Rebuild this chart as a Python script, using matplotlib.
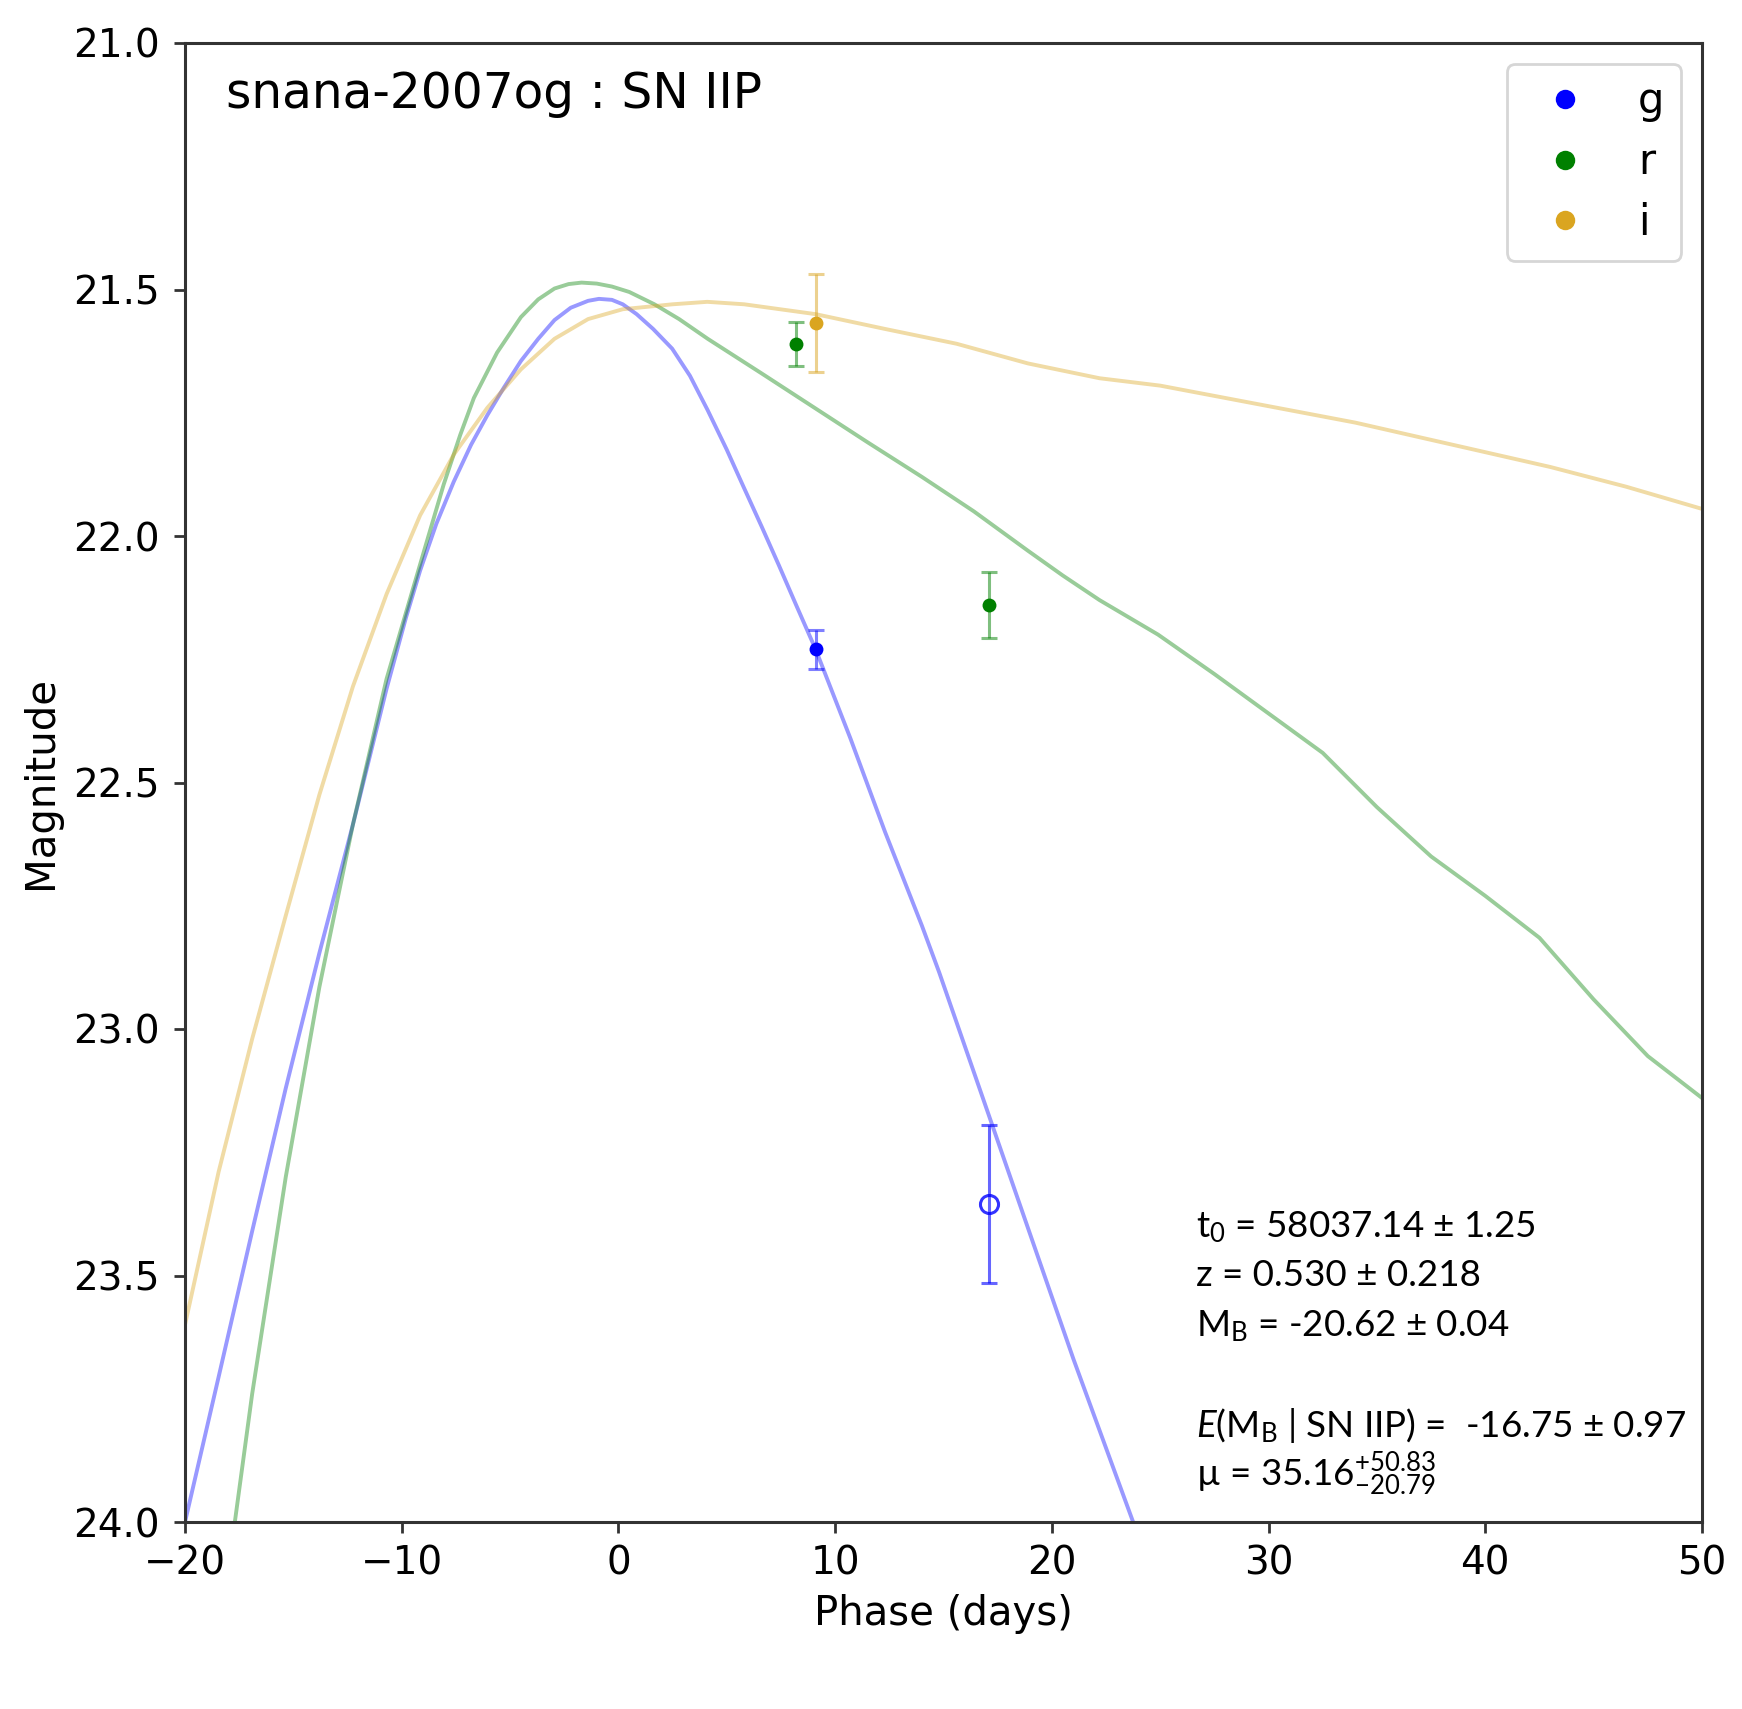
import matplotlib
matplotlib.use("Agg")
import matplotlib.pyplot as plt
from matplotlib.lines import Line2D

plt.rcParams['font.family'] = ['DejaVu Sans']
plt.rcParams['mathtext.fontset'] = 'custom'
plt.rcParams['mathtext.rm'] = 'Lato'
plt.rcParams['mathtext.it'] = 'Lato:italic'
plt.rcParams['mathtext.sf'] = 'Lato'

# ---- model light curves ----
g_phase = [-20, -18.45, -16.9, -15.35, -13.8, -12.25, -10.7, -9.8, -9.15, -8.4, -7.6, -6.8, -6.05, -5.3,
           -4.5, -3.7, -2.95, -2.2, -1.4, -0.9, -0.3, 0.2, 0.84, 1.6, 2.48, 3.3, 4.12, 5.0, 5.77, 6.6,
           7.41, 8.2, 9.1, 10.7, 12.3, 14.0, 14.8, 16.5, 18, 19.5, 21, 22.5, 24]
g_mag = [24.0, 23.706, 23.41, 23.12, 22.846, 22.585, 22.31, 22.165, 22.07, 21.975, 21.89, 21.815, 21.755, 21.70,
         21.645, 21.60, 21.562, 21.537, 21.523, 21.519, 21.521, 21.53, 21.55, 21.58, 21.62, 21.675, 21.745, 21.825, 21.90, 21.98,
         22.06, 22.14, 22.23, 22.41, 22.60, 22.79, 22.885, 23.10, 23.29, 23.48, 23.67, 23.85, 24.03]

r_phase = [-17.7, -16.9, -15.35, -13.8, -12.25, -10.7, -9.8, -8.9, -8.06, -7.3, -6.67, -5.6, -4.5, -3.7,
           -2.95, -2.3, -1.7, -1.0, -0.3, 0.5, 1.66, 2.8, 4.12, 6.6, 9.05, 11.5, 14.0, 16.4, 18.9, 20.5,
           22.2, 24.9, 27.5, 30, 32.5, 35, 37.5, 40, 42.5, 45, 47.5, 50]
r_mag = [24.0, 23.74, 23.30, 22.915, 22.585, 22.29, 22.155, 22.02, 21.895, 21.795, 21.72, 21.628, 21.556, 21.52,
         21.498, 21.489, 21.486, 21.488, 21.494, 21.505, 21.53, 21.56, 21.60, 21.67, 21.74, 21.81, 21.88, 21.95, 22.03, 22.08,
         22.13, 22.20, 22.28, 22.36, 22.44, 22.55, 22.65, 22.73, 22.815, 22.94, 23.055, 23.14]

i_phase = [-20, -18.45, -16.9, -15.35, -13.8, -12.25, -10.7, -9.15, -7.6, -6.05, -4.5, -2.95, -1.4, 0.2,
           2.5, 4.1, 5.8, 9.1, 12.3, 15.6, 18.9, 22.2, 25, 28, 31, 34, 37, 40, 43, 46.5, 50]
i_mag = [23.60, 23.29, 23.02, 22.77, 22.525, 22.305, 22.118, 21.958, 21.835, 21.74, 21.662, 21.60, 21.56, 21.54,
         21.53, 21.525, 21.53, 21.55, 21.58, 21.61, 21.65, 21.68, 21.695, 21.72, 21.745, 21.77, 21.80, 21.83, 21.86, 21.90, 21.945]

# ---- observations ----
g_obs_phase = [9.1]
g_obs_mag = [22.23]
g_obs_err = [0.04]
g_lim_phase = [17.1]
g_lim_mag = [23.355]
g_lim_err = [0.16]
r_obs_phase = [8.2, 17.1]
r_obs_mag = [21.61, 22.14]
r_obs_err = [0.045, 0.066]
i_obs_phase = [9.1]
i_obs_mag = [21.568]
i_obs_err = [0.10]

bands = ['g', 'r', 'i']
band_colors = ['blue', 'green', 'goldenrod']

x_ticks = [-20, -10, 0, 10, 20, 30, 40, 50]
y_ticks = [21.0, 21.5, 22.0, 22.5, 23.0, 23.5, 24.0]

title_text = 'snana-2007og : SN IIP'
info_lines = [r'$\mathrm{t_{0}}$ = 58037.14 ± 1.25',
              'z = 0.530 ± 0.218',
              r'M$_{\mathrm{B}}$ = -20.62 ± 0.04',
              r'$\mathit{E}$(M$_{\mathrm{B}}$ | SN IIP) =  -16.75 ± 0.97',
              'µ = 35.16$^{\\mathrm{+50.83}}_{\\mathrm{-20.79}}$']
info_y = [1237, 1286, 1336, 1437, 1486]

W, H = 1742, 1709
fig = plt.figure(figsize=(W / 100, H / 100), dpi=100)
L, R, T, B = 185, 1702, 43, 1522
ax = fig.add_axes([L / W, 1 - B / H, (R - L) / W, (B - T) / H])

lw = 2.8
ax.plot(g_phase, g_mag, color='blue', alpha=0.4, lw=lw, solid_joinstyle='round')
ax.plot(r_phase, r_mag, color='green', alpha=0.4, lw=lw, solid_joinstyle='round')
ax.plot(i_phase, i_mag, color='goldenrod', alpha=0.4, lw=lw, solid_joinstyle='round')

ekw = dict(fmt='none', elinewidth=2.2, capsize=6, capthick=2.2, alpha=0.5)
ax.errorbar(g_obs_phase, g_obs_mag, yerr=g_obs_err, ecolor='blue', **ekw)
ax.errorbar(r_obs_phase, r_obs_mag, yerr=r_obs_err, ecolor='green', **ekw)
ax.errorbar(i_obs_phase, i_obs_mag, yerr=i_obs_err, ecolor='goldenrod', **ekw)
ax.errorbar(g_lim_phase, g_lim_mag, yerr=g_lim_err, ecolor='blue', fmt='none',
            elinewidth=2.2, capsize=6, capthick=2.2, alpha=0.6)
ax.plot(g_obs_phase, g_obs_mag, 'o', color='blue', ms=10, mew=0)
ax.plot(r_obs_phase, r_obs_mag, 'o', color='green', ms=10, mew=0)
ax.plot(i_obs_phase, i_obs_mag, 'o', color='goldenrod', ms=10, mew=0)
ax.plot(g_lim_phase, g_lim_mag, 'o', mfc='none', mec='blue', ms=13, mew=2.2, alpha=0.8)

ax.set_xlim(-20, 50)
ax.set_ylim(24.0, 21.0)
ax.set_xticks(x_ticks)
ax.set_xticklabels(['\u2212' + str(abs(v)) if v < 0 else str(v) for v in x_ticks])
ax.set_yticks(y_ticks)
ax.set_yticklabels([f'{v:.1f}' for v in y_ticks])
ax.tick_params(axis='both', labelsize=28, length=8, width=2, color='#333333')
ax.tick_params(axis='x', pad=8)
ax.tick_params(axis='y', pad=10)
for sp in ax.spines.values():
    sp.set_linewidth(2.2)
    sp.set_color('#333333')

ax.set_xlabel('Phase (days)', fontsize=29)
ax.set_ylabel('Magnitude', fontsize=29)
ax.xaxis.set_label_coords(0.5, -(1614 - B) / (B - T), transform=ax.transAxes)
ax.yaxis.set_label_coords(-(L - 41) / (R - L), 0.5, transform=ax.transAxes)
ax.xaxis.label.set_va('center')
ax.yaxis.label.set_va('center')

ax.text((226 - L) / (R - L), (B - 108) / (B - T), title_text, transform=ax.transAxes,
        fontsize=35, ha='left', va='baseline')

handles = [Line2D([], [], ls='none', marker='o', color=c, ms=14, mew=0) for c in band_colors]
leg = ax.legend(handles, bands, loc='upper right', fontsize=30, labelspacing=0.45,
                handletextpad=0.75, borderpad=0.4, borderaxespad=0.5, framealpha=0.8)
leg.get_frame().set_linewidth(2)
leg.get_frame().set_edgecolor('#cccccc')

for line, yy in zip(info_lines, info_y):
    ax.text((1196 - L) / (R - L), (B - yy) / (B - T), line, transform=ax.transAxes,
            fontsize=26.5, family=['Lato', 'DejaVu Sans'], ha='left', va='baseline')

fig.savefig('out.png', dpi=100)
